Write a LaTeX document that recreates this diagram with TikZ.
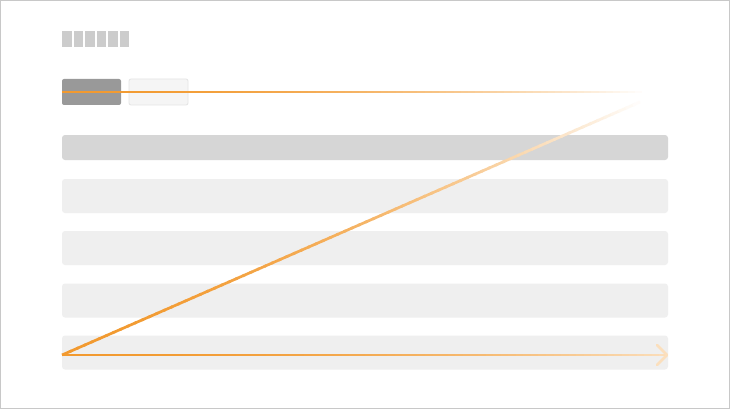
\documentclass[tikz,border=0pt]{standalone}
\usetikzlibrary{calc}
\definecolor{myorange}{RGB}{242,154,48}
\definecolor{frame}{RGB}{200,200,200}
\definecolor{blockgray}{RGB}{204,204,204}
\definecolor{darkbtn}{RGB}{153,153,153}
\definecolor{lightbtn}{RGB}{245,245,245}
\definecolor{lightbtnline}{RGB}{228,228,228}
\definecolor{hdrgray}{RGB}{214,214,214}
\definecolor{rowgray}{RGB}{239,239,239}
\tikzset{
  box/.style={rectangle, inner sep=0pt, outer sep=0pt, rounded corners=3pt},
  blockbox/.style={rectangle, inner sep=0pt, outer sep=0pt, fill=blockgray, minimum width=9.5pt, minimum height=16pt},
  rowbox/.style={box, fill=rowgray, minimum width=606pt, minimum height=34pt},
  fadeline/.style={line width=2.7pt},
}
\begin{document}
\begin{tikzpicture}[x=1pt,y=-1pt]
\useasboundingbox (0,0) rectangle (730,409);
\fill[white] (0,0) rectangle (730,409);
\draw[frame, line width=1pt] (0.5,0.5) rectangle (729,408.5);
% small blocks
\foreach \i in {0,...,5}{
  \node[blockbox] (b\i) at ({62+4.75+\i*11.5},39) {};
}
% buttons
\node[box, rounded corners=2pt, fill=darkbtn, minimum width=59pt, minimum height=26pt] (btnA) at (91.5,92) {};
\node[box, rounded corners=2pt, fill=lightbtn, draw=lightbtnline, line width=0.8pt, minimum width=59pt, minimum height=26pt] (btnB) at (158.5,92) {};
% header bar
\node[box, fill=hdrgray, minimum width=606pt, minimum height=25pt] (hdr) at (365,147.5) {};
% rows
\node[rowbox] (r1) at (365,196) {};
\node[rowbox] (r2) at (365,248) {};
\node[rowbox] (r3) at (365,300.5) {};
\node[rowbox] (r4) at (365,352.5) {};
% coordinates
\coordinate (s1) at (62,92);
\coordinate (e1) at (642,92);
\coordinate (s2) at (62,355);
\coordinate (e2) at (640,102);
\coordinate (e3) at (667,355);
% fading top line
\foreach \i in {0,...,79}{
  \pgfmathsetmacro\p{100*(1-(\i/80)^2)}
  \pgfmathsetmacro\ta{\i/80}
  \pgfmathsetmacro\tb{min((\i+1.3)/80,1)}
  \draw[myorange!\p!white, fadeline] ($(s1)!\ta!(e1)$) -- ($(s1)!\tb!(e1)$);
}
% fading diagonal
\foreach \i in {0,...,79}{
  \pgfmathsetmacro\p{100*(1-(\i/80)^2)}
  \pgfmathsetmacro\ta{\i/80}
  \pgfmathsetmacro\tb{min((\i+1.3)/80,1)}
  \draw[myorange!\p!white, fadeline] ($(s2)!\ta!(e2)$) -- ($(s2)!\tb!(e2)$);
}
% bottom arrow
\foreach \i in {0,...,79}{
  \pgfmathsetmacro\p{100-68*(\i/80)^2}
  \pgfmathsetmacro\ta{\i/80}
  \pgfmathsetmacro\tb{min((\i+1.3)/80,1)}
  \draw[myorange!\p!white, fadeline] ($(s2)!\ta!(e3)$) -- ($(s2)!\tb!(e3)$);
}
\draw[myorange!32!white, fadeline, line cap=round, line join=round] ($(e3)+(-10,-10)$) -- (e3) -- ($(e3)+(-10,10)$);
\end{tikzpicture}
\end{document}
